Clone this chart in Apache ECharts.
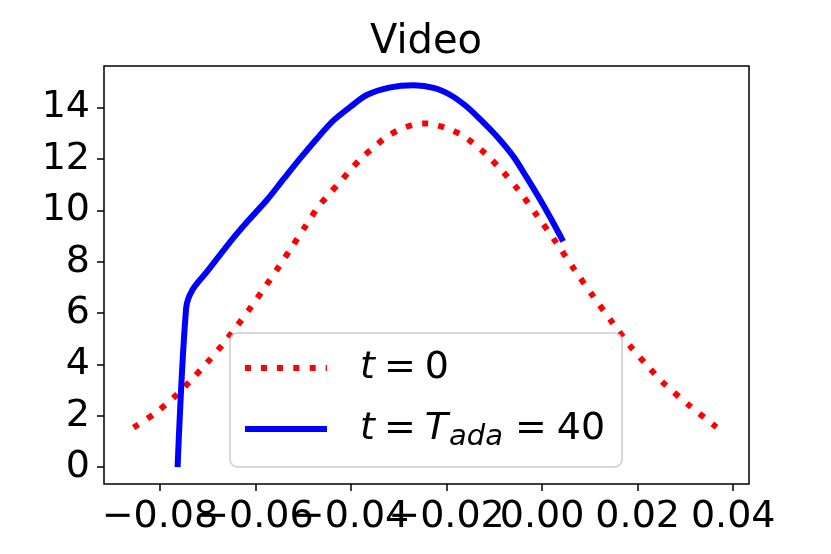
<!DOCTYPE html>
<html>
<head>
<meta charset="utf-8">
<script src="https://cdn.jsdelivr.net/npm/echarts@6/dist/echarts.min.js"></script>
<style>
  html, body { margin: 0; padding: 0; background: #fff; }
  #chart { width: 831px; height: 554px; }
</style>
</head>
<body>
<div id="chart"></div>
<script>
// values
const redX = [-0.0855, -0.0810, -0.0771, -0.0735, -0.0701, -0.0668, -0.0638, -0.0608, -0.0579, -0.0550, -0.0523,
  -0.0495, -0.0468, -0.0444, -0.0422, -0.0400, -0.0377, -0.0350, -0.0325, -0.0295, -0.0266, -0.0248, -0.0231,
  -0.0200, -0.0168, -0.0142, -0.0116, -0.0083, -0.0050, -0.0010, 0.0030, 0.0068, 0.0107, 0.0147, 0.0187, 0.0220,
  0.0253, 0.0310, 0.0365];
const redY = [1.54, 2.10, 2.71, 3.38, 4.07, 4.79, 5.51, 6.27, 7.04, 7.83, 8.59,
  9.39, 10.15, 10.67, 11.12, 11.60, 12.05, 12.49, 12.87, 13.17, 13.35, 13.38, 13.36,
  13.20, 12.93, 12.58, 12.16, 11.52, 10.80, 9.78, 8.73, 7.68, 6.65, 5.63, 4.65, 3.95,
  3.29, 2.37, 1.55];

const blueX = [-0.0763, -0.0745, -0.0732, -0.0701, -0.0652, -0.0615, -0.0576, -0.0541, -0.0506, -0.0471, -0.0436,
  -0.0400, -0.0367, -0.0320, -0.0269, -0.0225, -0.0192, -0.0160, -0.0130, -0.0095, -0.0060, -0.0032, -0.0004, 0.0020, 0.0044];
const blueY = [0.0, 6.20, 6.90, 7.62, 8.79, 9.60, 10.40, 11.22, 12.03, 12.80, 13.51,
  14.05, 14.49, 14.78, 14.87, 14.76, 14.49, 14.07, 13.55, 12.88, 12.09, 11.27, 10.41, 9.62, 8.79];

// x tick labels overlap in the original, so they are split over two axes
const xTicksA = [-0.08, -0.04, 0.00, 0.04];
const xTicksB = [-0.06, -0.02, 0.02];
const yTicks = [0, 2, 4, 6, 8, 10, 12, 14];
const seriesNames = ['t = 0', 't = T_ada = 40'];

const FONT = 'DejaVu Sans';
const pairs = (xs, ys) => xs.map((x, i) => [x, ys[i]]);
const fmtX = v => v.toFixed(2).replace('-', '\u2212');

// legend samples: dotted red squares, solid blue bar
const dotIcon = 'path://M0,0h6v6h-6z M16,0h6v6h-6z M32,0h6v6h-6z M48.3,0h6v6h-6z M64.7,0h6v6h-6z M80.7,0h1.3v6h-1.3z';
const barIcon = 'path://M0,0h82v6h-82z';

function xAxisWith(ticks) {
  return {
    type: 'value',
    position: 'bottom',
    min: -0.0917, max: 0.0433,
    axisLine: { show: false, onZero: false },
    splitLine: { show: false },
    axisTick: { show: true, length: 7, lineStyle: { color: '#000', width: 1.5 }, customValues: ticks },
    axisLabel: {
      customValues: ticks,
      hideOverlap: false,
      margin: 14,
      fontFamily: FONT, fontSize: 38, color: '#000',
      formatter: fmtX
    }
  };
}

const chart = echarts.init(document.getElementById('chart'), null, { renderer: 'canvas' });

chart.setOption({
  animation: false,
  backgroundColor: '#fff',
  title: {
    text: 'Video',
    left: 365,
    top: 18,
    textStyle: { fontFamily: FONT, fontSize: 40, fontWeight: 'normal', color: '#000' }
  },
  grid: {
    left: 104, right: 82, top: 66, bottom: 70,
    show: true, borderColor: '#000', borderWidth: 1.5, backgroundColor: '#fff'
  },
  xAxis: [xAxisWith(xTicksA), xAxisWith(xTicksB)],
  yAxis: {
    type: 'value',
    min: -0.66, max: 15.62,
    axisLine: { show: false, onZero: false },
    splitLine: { show: false },
    axisTick: { show: true, length: 7, lineStyle: { color: '#000', width: 1.5 }, customValues: yTicks },
    axisLabel: {
      customValues: yTicks,
      margin: 14,
      fontFamily: FONT, fontSize: 38, color: '#000',
      formatter: v => String(Math.round(v))
    }
  },
  legend: {
    orient: 'vertical',
    left: 230, top: 333,
    padding: [16, 17, 15, 15],
    itemGap: 23,
    itemWidth: 82,
    itemHeight: 6,
    borderColor: '#cccccc',
    borderWidth: 1.5,
    borderRadius: 8,
    backgroundColor: 'rgba(255,255,255,0.8)',
    data: [
      { name: seriesNames[0], icon: dotIcon, itemStyle: { color: '#ff0000' } },
      { name: seriesNames[1], icon: barIcon, itemStyle: { color: '#0000ff' } }
    ],
    formatter: name => name === seriesNames[0]
      ? '{i|t}{e|=}{n|0}'
      : '{i|t}{e|=}{i|T}{s|ada}{f|=}{n|40}',
    textStyle: {
      fontFamily: FONT, fontSize: 38, color: '#000',
      padding: [0, 0, 0, 28],
      rich: {
        i: { fontFamily: FONT, fontSize: 38, fontStyle: 'italic', color: '#000' },
        n: { fontFamily: FONT, fontSize: 38, color: '#000' },
        e: { fontFamily: FONT, fontSize: 38, color: '#000', padding: [0, 9, 0, 9] },
        f: { fontFamily: FONT, fontSize: 38, color: '#000', padding: [0, 10, 0, 12] },
        s: { fontFamily: FONT, fontSize: 29, fontStyle: 'italic', color: '#000', padding: [17, 0, 0, 1] }
      }
    }
  },
  series: [
    {
      name: seriesNames[0],
      type: 'line',
      xAxisIndex: 0,
      data: pairs(redX, redY),
      showSymbol: false,
      symbol: 'none',
      smooth: 0.3,
      lineStyle: { color: '#ff0000', width: 6, type: [6, 10.4], cap: 'butt' },
      itemStyle: { color: '#ff0000' }
    },
    {
      name: seriesNames[1],
      type: 'line',
      xAxisIndex: 0,
      data: pairs(blueX, blueY),
      showSymbol: false,
      symbol: 'none',
      smooth: 0.3,
      lineStyle: { color: '#0000ff', width: 6, cap: 'butt', join: 'round' },
      itemStyle: { color: '#0000ff' }
    }
  ]
});
</script>
</body>
</html>
